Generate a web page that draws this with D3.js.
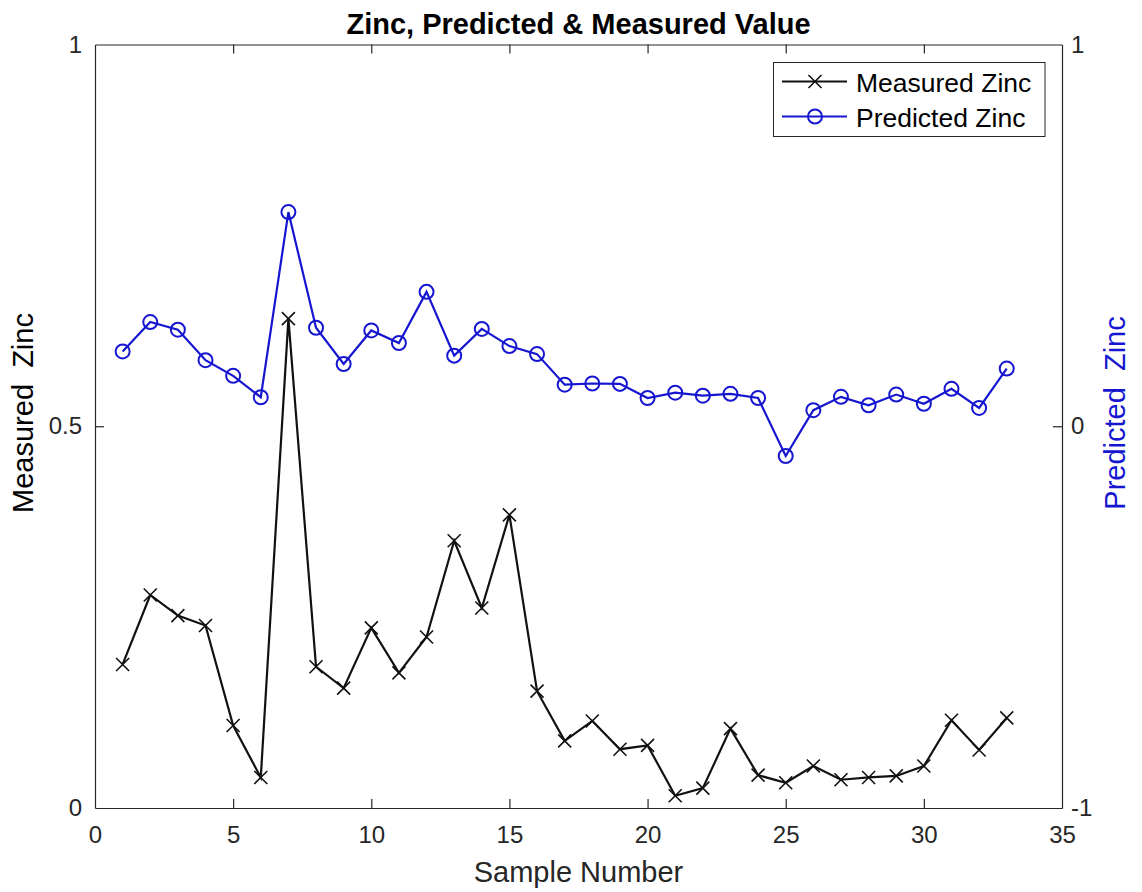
<!DOCTYPE html>
<html>
<head>
<meta charset="utf-8">
<script src="https://cdn.jsdelivr.net/npm/d3@7"></script>
<style>
  body { margin: 0; background: #fff; }
  text { font-family: "Liberation Sans", Arial, Helvetica, sans-serif; }
</style>
</head>
<body>
<svg id="chart" width="1142" height="892"></svg>
<script>
const samples = d3.range(1, 34);
const measuredZinc = [0.188, 0.279, 0.252, 0.239, 0.108, 0.040, 0.641, 0.185, 0.157, 0.236,
    0.177, 0.224, 0.350, 0.262, 0.384, 0.153, 0.088, 0.114, 0.077, 0.082,
    0.016, 0.026, 0.104, 0.043, 0.033, 0.055, 0.037, 0.040, 0.042, 0.055,
    0.115, 0.076, 0.118];
const predictedZinc = [0.196, 0.273, 0.253, 0.173, 0.132, 0.076, 0.561, 0.258, 0.163, 0.251,
    0.218, 0.352, 0.185, 0.255, 0.210, 0.189, 0.109, 0.112, 0.111, 0.074,
    0.088, 0.080, 0.085, 0.074, -0.078, 0.042, 0.077, 0.055, 0.083, 0.059,
    0.098, 0.048, 0.151];
const xTicks = [0, 5, 10, 15, 20, 25, 30, 35];
const leftTicks = [0, 0.5, 1];
const rightTicks = [-1, 0, 1];

const plotLeft = 95, plotRight = 1062, plotTop = 44.5, plotBottom = 808;
const blue = "#1616d0";
const axisColor = "#262626";

const svg = d3.select("#chart");

const x = d3.scaleLinear().domain([0, 35]).range([plotLeft, plotRight]);
const yL = d3.scaleLinear().domain([0, 1]).range([plotBottom, plotTop]);
const yR = d3.scaleLinear().domain([-1, 1]).range([plotBottom, plotTop]);

const fmt = d => String(d);  // plain hyphen minus like matlab

// axes (ticks point inward, like matlab)
function styleAxis(g) {
    g.selectAll("path").attr("stroke", axisColor).attr("stroke-width", 1.2);
    g.selectAll("line").attr("stroke", axisColor).attr("stroke-width", 1.2);
    g.selectAll("text").attr("fill", axisColor).attr("font-size", 24);
}

svg.append("g").attr("transform", `translate(0,${plotBottom})`)
    .call(d3.axisBottom(x).tickValues(xTicks).tickFormat(fmt).tickSizeInner(-9).tickSizeOuter(0).tickPadding(18))
    .call(styleAxis)
    .call(g => g.selectAll(".tick").filter(d => d === 0 || d === 35).select("line").remove());

svg.append("g").attr("transform", `translate(0,${plotTop})`)
    .call(d3.axisTop(x).tickValues(xTicks).tickFormat("").tickSizeInner(-9).tickSizeOuter(0))
    .call(styleAxis)
    .call(g => g.selectAll(".tick").filter(d => d === 0 || d === 35).select("line").remove());

svg.append("g").attr("transform", `translate(${plotLeft},0)`)
    .call(d3.axisLeft(yL).tickValues(leftTicks).tickFormat(fmt).tickSizeInner(-9).tickSizeOuter(0).tickPadding(13))
    .call(styleAxis)
    .call(g => g.selectAll(".tick").filter(d => d === 0 || d === 1).select("line").remove());

svg.append("g").attr("transform", `translate(${plotRight},0)`)
    .call(d3.axisRight(yR).tickValues(rightTicks).tickFormat(fmt).tickSizeInner(-9).tickSizeOuter(0).tickPadding(9))
    .call(styleAxis)
    .call(g => g.selectAll(".tick").filter(d => d !== 0).select("line").remove());

// title and labels
svg.append("text").attr("x", (plotLeft + plotRight) / 2).attr("y", 34)
    .attr("text-anchor", "middle").attr("font-size", 29).attr("font-weight", "bold")
    .attr("fill", "#000").text("Zinc, Predicted & Measured Value");

svg.append("text").attr("x", (plotLeft + plotRight) / 2).attr("y", 882)
    .attr("text-anchor", "middle").attr("font-size", 29).attr("fill", axisColor)
    .text("Sample Number");

svg.append("text").attr("transform", `translate(33,413) rotate(-90)`)
    .attr("text-anchor", "middle").attr("font-size", 29).attr("fill", "#000")
    .style("white-space", "pre")
    .text("Measured  Zinc");

svg.append("text").attr("transform", `translate(1125,413) rotate(-90)`)
    .attr("text-anchor", "middle").attr("font-size", 29).attr("fill", blue)
    .style("white-space", "pre")
    .text("Predicted  Zinc");

// series
const lineM = d3.line().x((d, i) => x(samples[i])).y(d => yL(d));
const lineP = d3.line().x((d, i) => x(samples[i])).y(d => yR(d));

svg.append("path").datum(predictedZinc).attr("d", lineP)
    .attr("fill", "none").attr("stroke", blue).attr("stroke-width", 2.2);
svg.append("g").selectAll("circle").data(predictedZinc).join("circle")
    .attr("cx", (d, i) => x(samples[i])).attr("cy", d => yR(d)).attr("r", 7)
    .attr("fill", "none").attr("stroke", blue).attr("stroke-width", 2);

svg.append("path").datum(measuredZinc).attr("d", lineM)
    .attr("fill", "none").attr("stroke", "#111").attr("stroke-width", 2.2);

function crossPath(cx, cy, s) {
    return `M${cx - s},${cy - s}L${cx + s},${cy + s}M${cx - s},${cy + s}L${cx + s},${cy - s}`;
}
svg.append("g").selectAll("path").data(measuredZinc).join("path")
    .attr("d", (d, i) => crossPath(x(samples[i]), yL(d), 6.5))
    .attr("stroke", "#111").attr("stroke-width", 1.6).attr("fill", "none");

// legend
const lg = svg.append("g");
lg.append("rect").attr("x", 773.5).attr("y", 62.5).attr("width", 271.5).attr("height", 74)
    .attr("fill", "#fff").attr("stroke", axisColor).attr("stroke-width", 1);
const legendItems = [
    { label: "Measured Zinc", color: "#111", marker: "x", y: 81.5 },
    { label: "Predicted Zinc", color: blue, marker: "o", y: 116.5 }
];
legendItems.forEach(it => {
    lg.append("line").attr("x1", 782).attr("x2", 847).attr("y1", it.y).attr("y2", it.y)
        .attr("stroke", it.color).attr("stroke-width", 2);
    if (it.marker === "x") {
        lg.append("path").attr("d", crossPath(815, it.y, 6.5)).attr("stroke", it.color).attr("stroke-width", 1.6);
    } else {
        lg.append("circle").attr("cx", 815).attr("cy", it.y).attr("r", 7)
            .attr("fill", "none").attr("stroke", it.color).attr("stroke-width", 2);
    }
    lg.append("text").attr("x", 856).attr("y", it.y + 10).attr("font-size", 26.5)
        .attr("fill", "#000").text(it.label);
});
</script>
</body>
</html>
